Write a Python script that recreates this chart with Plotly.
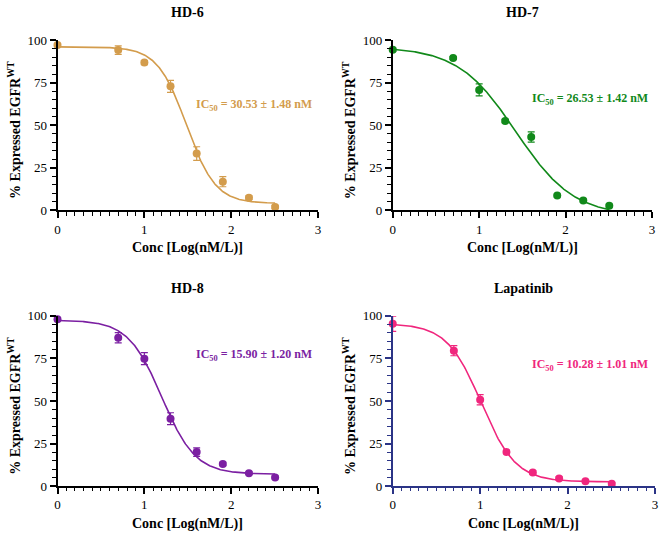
import numpy as np
import plotly.graph_objects as go

# ---------------- data ----------------
log_conc = [0, 0.699, 1.0, 1.301, 1.602, 1.903, 2.204, 2.505]

titles = ["HD-6", "HD-7", "HD-8", "Lapatinib"]
ic50_labels = ["30.53 ± 1.48 nM", "26.53 ± 1.42 nM", "15.90 ± 1.20 nM", "10.28 ± 1.01 nM"]

hd6_vals = [97.1, 94.1, 86.8, 72.8, 33.3, 16.8, 7.4, 1.9]
hd6_err = [0.8, 2.5, 1.2, 3.5, 4.0, 3.0, 1.0, 1.0]
hd7_vals = [94.3, 89.5, 70.7, 52.4, 43.0, 8.6, 5.7, 2.7]
hd7_err = [1.0, 0.8, 3.5, 1.0, 3.0, 0.8, 0.8, 0.8]
hd8_vals = [98.0, 87.2, 74.9, 39.6, 20.0, 13.0, 7.6, 5.1]
hd8_err = [1.0, 3.0, 3.5, 3.5, 2.5, 1.0, 0.8, 0.8]
lap_vals = [95.4, 79.6, 50.7, 20.0, 8.0, 4.4, 2.9, 1.3]
lap_err = [4.5, 3.0, 3.0, 1.0, 1.0, 1.0, 0.8, 0.8]

# 4-parameter logistic fit parameters: top, bottom, logIC50, hill
fit_top = [96.0, 96.0, 97.5, 95.5]
fit_bottom = [4.0, -3.5, 7.0, 2.5]
fit_logic50 = [1.485, 1.424, 1.201, 1.012]
fit_hill = [2.6, 1.3, 2.25, 2.2]

colors = ["#D39C4C", "#11891A", "#7B1FA2", "#F0267D"]
axis_colors = ["#000000", "#000000", "#000000", "#2B3486"]

series_vals = [hd6_vals, hd7_vals, hd8_vals, lap_vals]
series_err = [hd6_err, hd7_err, hd8_err, lap_err]

# ---------------- layout geometry (pixels) ----------------
W, H = 661, 543
panels = [  # x0, x1, ytop, ybottom in px
    (55, 318, 34, 209),
    (393.3, 655, 34, 209),
    (55, 318, 317.7, 492.7),
    (393.3, 658, 317.7, 492.7),
]
FONT = "Liberation Serif"

fig = go.Figure()
annotations = []

for i in range(4):
    xa = "x" if i == 0 else f"x{i+1}"
    ya = "y" if i == 0 else f"y{i+1}"
    col = colors[i]
    # fitted curve
    xc = np.linspace(0, log_conc[-1], 300)
    yc = fit_bottom[i] + (fit_top[i] - fit_bottom[i]) / (1 + 10 ** ((xc - fit_logic50[i]) * fit_hill[i]))
    fig.add_trace(go.Scatter(x=xc, y=yc, mode="lines", line=dict(color=col, width=1.6),
                             xaxis=xa, yaxis=ya, showlegend=False, hoverinfo="skip",
                             cliponaxis=False))
    fig.add_trace(go.Scatter(x=log_conc, y=series_vals[i], mode="markers",
                             marker=dict(color=col, size=8),
                             error_y=dict(type="data", array=series_err[i], color=col,
                                          thickness=1.2, width=3.5),
                             xaxis=xa, yaxis=ya, showlegend=False, cliponaxis=False))

    x0, x1, yt, yb = panels[i]
    ac = axis_colors[i]
    xdom = [x0 / W, x1 / W]
    ydom = [(H - yb) / H, (H - yt) / H]
    common = dict(showline=True, linecolor=ac, linewidth=1.6, ticks="outside",
                  tickcolor=ac, tickwidth=1.5, ticklen=6, showgrid=False, zeroline=False,
                  tickfont=dict(family=FONT, size=13, color="#000000"))
    xkey = "xaxis" if i == 0 else f"xaxis{i+1}"
    ykey = "yaxis" if i == 0 else f"yaxis{i+1}"
    fig.update_layout(**{
        xkey: dict(domain=xdom, range=[0, 3], anchor=ya, tickvals=[0, 1, 2, 3],
                   minor=dict(dtick=0.1, tick0=0, ticks="outside", ticklen=3.5,
                              tickcolor=ac, tickwidth=1.3, showgrid=False),
                   **common),
        ykey: dict(domain=ydom, range=[0, 100], anchor=xa, tickvals=[0, 25, 50, 75, 100],
                   minor=dict(dtick=5, tick0=0, ticks="outside", ticklen=3.5,
                              tickcolor=ac, tickwidth=1.3, showgrid=False),
                   **common),
    })

    xc_px = (x0 + x1) / 2
    # panel title
    annotations.append(dict(text=f"<b>{titles[i]}</b>", x=xc_px / W, y=(H - (yt - 28)) / H,
                            xref="paper", yref="paper", showarrow=False,
                            font=dict(family=FONT, size=14, color="#000000"),
                            xanchor="center", yanchor="middle"))
    # x axis title
    annotations.append(dict(text="<b>Conc [Log(nM/L)]</b>", x=xc_px / W, y=(H - (yb + 39)) / H,
                            xref="paper", yref="paper", showarrow=False,
                            font=dict(family=FONT, size=14, color="#000000"),
                            xanchor="center", yanchor="middle"))
    # y axis title
    annotations.append(dict(text="<b>% Expressed EGFR<sup>WT</sup></b>",
                            x=(x0 - 44) / W, y=(H - ((yt + yb) / 2 + 5)) / H,
                            xref="paper", yref="paper", showarrow=False, textangle=-90,
                            font=dict(family=FONT, size=14, color="#000000"),
                            xanchor="center", yanchor="middle"))

# IC50 labels (data coordinates)
ic50_pos = [(1.57, 62), (1.59, 65.5), (1.57, 76.8), (1.57, 71.4)]
for i in range(4):
    xa = "x" if i == 0 else f"x{i+1}"
    ya = "y" if i == 0 else f"y{i+1}"
    annotations.append(dict(text=f"<b>IC<sub>50</sub> = {ic50_labels[i]}</b>",
                            x=ic50_pos[i][0], y=ic50_pos[i][1], xref=xa, yref=ya,
                            showarrow=False, xanchor="left", yanchor="middle",
                            font=dict(family=FONT, size=12, color=colors[i])))

fig.update_layout(width=W, height=H, margin=dict(l=0, r=0, t=0, b=0),
                  paper_bgcolor="white", plot_bgcolor="white",
                  font=dict(family=FONT, size=13, color="#000000"),
                  annotations=annotations)

fig.write_html("out.html", config={"displayModeBar": False},
               post_script="document.body.style.margin='0';document.body.style.overflow='hidden';")
